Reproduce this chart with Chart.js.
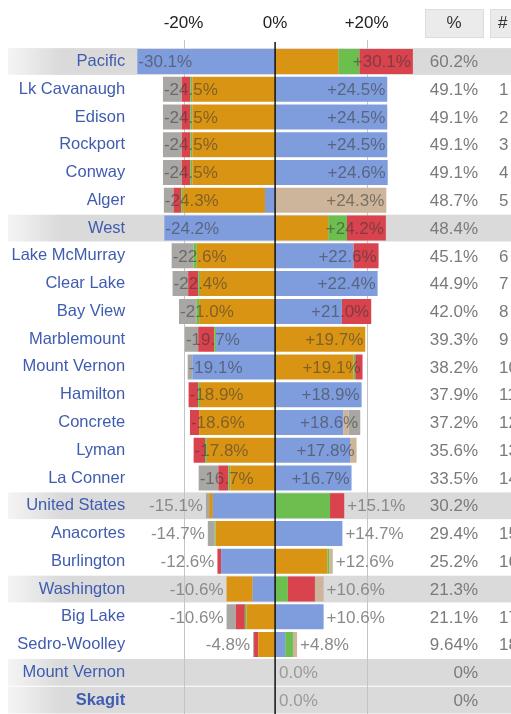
<!DOCTYPE html>
<html>
<head>
<meta charset="utf-8">
<script src="https://cdn.jsdelivr.net/npm/chart.js@4/dist/chart.umd.min.js"></script>
<style>
  html, body { margin: 0; padding: 0; background: #fff; }
  #wrap { width: 511px; height: 714px; }
</style>
</head>
<body>
<div id="wrap"><canvas id="c" width="511" height="714"></canvas></div>
<script>
const categories = ['Pacific','Lk Cavanaugh','Edison','Rockport','Conway','Alger','West','Lake McMurray','Clear Lake','Bay View','Marblemount','Mount Vernon','Hamilton','Concrete','Lyman','La Conner','United States','Anacortes','Burlington','Washington','Big Lake','Sedro-Woolley','Mount Vernon','Skagit'];
const highlighted = [0, 6, 16, 19, 22, 23];

// left side (drawn as negatives), from zero outward
const leftBlue   = [30.1,0,0,0,0,2.2,24.2,0,0,0,12.9,18.1,0,0,0,0,13.6,0,11.8,4.9,0,0,0,0];
const leftOrange = [0,18.1,18.1,18.1,18.1,17.9,0,17.1,16.4,16.6,0,0,16.4,16.6,14.9,9.8,0.8,13.0,0,5.7,6.2,3.7,0,0];
const leftGreen  = [0,0.4,0.4,0.4,0.4,0.4,0,0.7,0.4,0.6,0.4,0,0.4,0,0.4,0.4,0,0.2,0,0,0.4,0,0,0];
const leftRed    = [0,1.9,1.9,1.9,1.9,1.7,0,0,2.2,0,3.5,0,2.1,2.0,2.5,2.2,0,0,0.8,0,2.0,0.9,0,0];
const leftGray   = [0,4.1,4.1,4.1,4.1,2.1,0,4.8,3.4,3.8,2.9,1.0,0,0,0,4.3,0.7,1.5,0,0,2.0,0.2,0,0];

// right side, from zero outward
const rightBlue   = [0,24.5,24.5,24.5,24.6,0,0,17.1,22.4,14.6,0,0,18.9,14.9,16.4,16.7,0,14.7,0,0,10.6,2.2,0,0];
const rightOrange = [13.8,0,0,0,0,0,11.6,0,0,0,19.7,17.1,0,0,0,0,0,0,11.4,0,0,0,0,0];
const rightGreen  = [4.6,0,0,0,0,0,4.1,0,0,0,0,0.4,0,0,0,0,12.0,0,0.4,2.8,0,1.7,0,0];
const rightRed    = [11.7,0,0,0,0,0,8.5,5.5,0,6.4,0,1.6,0,0,0,0,3.1,0,0,5.9,0,0,0,0];
const rightTan    = [0,0,0,0,0,24.3,0,0,0,0,0,0,0,1.1,1.4,0,0,0,0.8,1.9,0,0.9,0,0];
const rightGray   = [0,0,0,0,0,0,0,0,0,0,0,0,0,2.6,0,0,0,0,0,0,0,0,0,0];

const leftTotals  = [30.1,24.5,24.5,24.5,24.5,24.3,24.2,22.6,22.4,21.0,19.7,19.1,18.9,18.6,17.8,16.7,15.1,14.7,12.6,10.6,10.6,4.8,0,0];
const rightTotals = [30.1,24.5,24.5,24.5,24.6,24.3,24.2,22.6,22.4,21.0,19.7,19.1,18.9,18.6,17.8,16.7,15.1,14.7,12.6,10.6,10.6,4.8,0,0];
const pctColumn  = ['60.2%','49.1%','49.1%','49.1%','49.1%','48.7%','48.4%','45.1%','44.9%','42.0%','39.3%','38.2%','37.9%','37.2%','35.6%','33.5%','30.2%','29.4%','25.2%','21.3%','21.1%','9.64%','0%','0%'];
const rankColumn = ['','1','2','3','4','5','','6','7','8','9','10','11','12','13','14','','15','16','','17','18','',''];
const xTicks = [-20, 0, 20];

const BLUE = '#7f9ddc', ORANGE = '#d99414', GREEN = '#6cbf4f', RED = '#d9434e', GRAY = '#a9a7a4', TAN = '#cdb59b';
const FONT = "'Liberation Sans', Arial, sans-serif";

function ds(data, color, neg) {
  return {
    data: data.map(v => neg ? -v : v),
    backgroundColor: color, borderWidth: 0, stack: 's',
    barPercentage: 0.9, categoryPercentage: 1
  };
}

const decor = {
  id: 'decor',
  beforeDraw(chart) {
    const { ctx } = chart, y = chart.scales.y;
    const half = (y.getPixelForValue(1) - y.getPixelForValue(0)) / 2;
    ctx.save();
    highlighted.forEach(i => {
      const yc = y.getPixelForValue(i);
      const g = ctx.createLinearGradient(8, 0, 60, 0);
      g.addColorStop(0, 'rgba(220,220,220,0.3)');
      g.addColorStop(1, 'rgba(218,218,218,1)');
      ctx.fillStyle = g;
      ctx.fillRect(8, yc - half + 0.5, 503, half * 2 - 1);
    });
    // grid at +-20 under bars
    const x = chart.scales.x;
    ctx.strokeStyle = '#c4c4c4'; ctx.lineWidth = 1;
    [-20, 20].forEach(v => {
      const px = Math.round(x.getPixelForValue(v)) + 0.5;
      ctx.beginPath(); ctx.moveTo(px, 40); ctx.lineTo(px, chart.chartArea.bottom); ctx.stroke();
    });
    // header boxes
    ctx.fillStyle = '#ebebeb'; ctx.strokeStyle = '#dcdcdc';
    ctx.fillRect(425, 9, 58, 28); ctx.strokeRect(425.5, 9.5, 58, 28);
    ctx.fillRect(490, 9, 25, 28); ctx.strokeRect(490.5, 9.5, 25, 28);
    ctx.fillStyle = '#333'; ctx.font = '17px ' + FONT;
    ctx.textBaseline = 'middle'; ctx.textAlign = 'center';
    ctx.fillText('%', 454, 23);
    ctx.textAlign = 'left';
    ctx.fillText('#', 498, 23);
    ctx.restore();
  },
  afterDatasetsDraw(chart) {
    const { ctx } = chart, x = chart.scales.x, y = chart.scales.y;
    const x0 = x.getPixelForValue(0);
    ctx.save();
    ctx.strokeStyle = '#111'; ctx.lineWidth = 1.5;
    ctx.beginPath(); ctx.moveTo(x0, 42); ctx.lineTo(x0, chart.chartArea.bottom); ctx.stroke();

    ctx.font = '17px ' + FONT; ctx.textBaseline = 'middle';
    categories.forEach((c, i) => {
      const yc = y.getPixelForValue(i) + 1;
      const lt = leftTotals[i], rt = rightTotals[i];
      if (lt > 0) {
        const px = x.getPixelForValue(-lt);
        const txt = '-' + lt.toFixed(1) + '%';
        if (lt >= 16) { ctx.fillStyle = 'rgba(55,55,55,0.55)'; ctx.textAlign = 'left'; ctx.fillText(txt, px + 1, yc); }
        else { ctx.fillStyle = '#8a8a8a'; ctx.textAlign = 'right'; ctx.fillText(txt, px - 3, yc); }
      }
      if (rt > 0) {
        const px = x.getPixelForValue(rt);
        const txt = '+' + rt.toFixed(1) + '%';
        if (rt >= 16) { ctx.fillStyle = 'rgba(55,55,55,0.55)'; ctx.textAlign = 'right'; ctx.fillText(txt, px - 2, yc); }
        else { ctx.fillStyle = '#8a8a8a'; ctx.textAlign = 'left'; ctx.fillText(txt, px + 3, yc); }
      } else {
        ctx.fillStyle = '#9a9a9a'; ctx.textAlign = 'left'; ctx.fillText('0.0%', x0 + 4, yc);
      }
      ctx.fillStyle = '#7a7a7a';
      ctx.textAlign = 'right'; ctx.fillText(pctColumn[i], 478, yc);
      ctx.textAlign = 'left'; ctx.fillText(rankColumn[i], 499, yc);
    });
    ctx.restore();
  }
};

new Chart(document.getElementById('c'), {
  type: 'bar',
  data: {
    labels: categories,
    datasets: [
      ds(leftBlue, BLUE, true), ds(leftOrange, ORANGE, true), ds(leftGreen, GREEN, true),
      ds(leftRed, RED, true), ds(leftGray, GRAY, true),
      ds(rightBlue, BLUE), ds(rightOrange, ORANGE), ds(rightGreen, GREEN),
      ds(rightRed, RED), ds(rightTan, TAN), ds(rightGray, GRAY)
    ]
  },
  options: {
    indexAxis: 'y',
    responsive: false,
    devicePixelRatio: 1,
    animation: false,
    layout: { padding: { left: 0, right: 94, top: 0, bottom: 0 } },
    plugins: { legend: { display: false }, tooltip: { enabled: false } },
    scales: {
      x: {
        position: 'top', min: -31, max: 31, stacked: true,
        afterBuildTicks: s => { s.ticks = xTicks.map(v => ({ value: v })); },
        afterFit: s => { s.height = 47.6; s.paddingLeft = 0; s.paddingRight = 0; },
        grid: { display: false },
        border: { display: false },
        ticks: {
          padding: 6, color: '#222', font: { size: 17, family: FONT },
          callback: v => (v > 0 ? '+' : '') + v + '%'
        }
      },
      y: {
        stacked: true,
        afterFit: s => { s.width = 133.2; s.paddingTop = 0; s.paddingBottom = 0; },
        grid: { display: false },
        border: { display: false },
        ticks: {
          padding: 0, color: '#3f5cb0', autoSkip: false,
          font: ctx => ({ size: 16.5, family: FONT, weight: ctx.index === 23 ? 'bold' : 'normal' })
        }
      }
    }
  },
  plugins: [decor]
});
</script>
</body>
</html>
